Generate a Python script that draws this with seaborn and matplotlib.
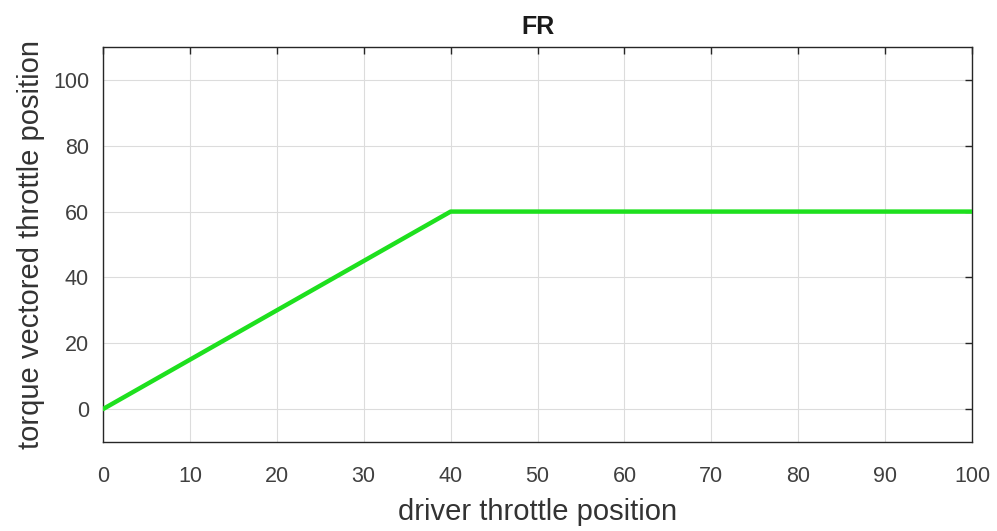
import matplotlib
matplotlib.use("Agg")
import matplotlib.pyplot as plt
import seaborn as sns
import pandas as pd

driver_throttle = [0, 40, 100]
vectored_throttle = [0, 60, 60]
x_ticks = [0, 10, 20, 30, 40, 50, 60, 70, 80, 90, 100]
y_ticks = [0, 20, 40, 60, 80, 100]

sns.set_theme(style="white")
plt.rcParams['font.family'] = ['Liberation Sans', 'DejaVu Sans']

df = pd.DataFrame({"x": driver_throttle, "y": vectored_throttle})

fig = plt.figure(figsize=(9.97, 5.31), dpi=100)
ax = fig.add_axes([0.1033, 0.1676, 0.8717, 0.7439])
sns.lineplot(data=df, x="x", y="y", ax=ax, color="#1ee01e", linewidth=3.2, zorder=3)

ax.set_xlim(0, 100)
ax.set_ylim(-10, 110)
ax.set_xticks(x_ticks)
ax.set_yticks(y_ticks)
ax.grid(True, color="#dcdcdc", linewidth=0.8)
ax.set_axisbelow(True)
for s in ax.spines.values():
    s.set_color("#262626")
    s.set_linewidth(1.0)
    s.set_visible(True)
ax.tick_params(direction="in", top=True, right=True, length=5, width=1,
               color="#262626", labelsize=15.5, labelcolor="#404040")
ax.tick_params(axis="x", pad=17)
ax.tick_params(axis="y", pad=10)
ax.set_xlabel("driver throttle position", fontsize=21, color="#333333", labelpad=8)
ax.set_ylabel("torque vectored throttle position", fontsize=21, color="#333333", labelpad=6)
ax.set_title("FR", fontsize=18, fontweight="bold", color="#1a1a1a", pad=9)

fig.savefig("out.png", dpi=100)
